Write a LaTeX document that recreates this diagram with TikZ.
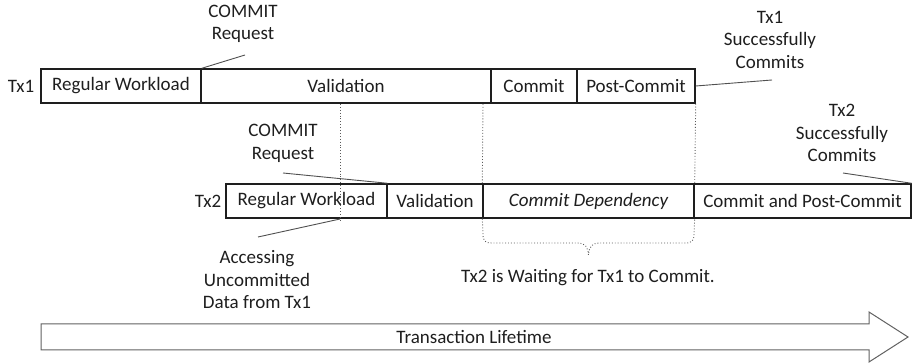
\documentclass[tikz,border=0pt]{standalone}
\usepackage{fontspec}
\setmainfont{Carlito}
\definecolor{ink}{HTML}{1E1E1E}
\definecolor{wire}{HTML}{505050}
\definecolor{dotc}{HTML}{5A5A5A}
\begin{document}
\begin{tikzpicture}[x=1pt,y=-1pt,
  every node/.style={font=\fontsize{19}{22.5}\selectfont, text=ink},
  cell/.style={draw=ink, line width=1.4pt, minimum height=34pt, inner sep=0pt},
  lbl/.style={align=center, inner sep=0pt},
  conn/.style={draw=wire, line width=0.9pt},
  dots/.style={draw=dotc, line width=0.9pt, dotted},
  bigarrow/.style={draw=wire!90, line width=1pt}]
\useasboundingbox (0,0) rectangle (914,363);
% Tx1 row
\node[cell, minimum width=160pt] (t1a) at (121,86) {Regular Workload};
\node[cell, minimum width=290pt] (t1b) at (346,86) {Validation};
\node[cell, minimum width=86pt]  (t1c) at (534,86) {Commit};
\node[cell, minimum width=118pt] (t1d) at (636,86) {Post-Commit};
\node[lbl] (tx1) at (21,86) {Tx1};
% Tx2 row
\node[cell, minimum width=161pt] (t2a) at (306.5,201) {Regular Workload};
\node[cell, minimum width=96pt]  (t2b) at (435,201) {Validation};
\node[cell, minimum width=211pt] (t2c) at (588.5,201) {\itshape Commit Dependency};
\node[cell, minimum width=217pt] (t2d) at (802.5,201) {Commit and Post-Commit};
\node[lbl] (tx2) at (208,201) {Tx2};
% labels
\node[lbl] (req1) at (243,24) {COMMIT\\Request};
\node[lbl] (req2) at (283,143.5) {COMMIT\\Request};
\node[lbl] (succ1) at (770,39.5) {Tx1\\Successfully\\Commits};
\node[lbl] (succ2) at (842,133) {Tx2\\Successfully\\Commits};
\node[lbl] (acc) at (257,280) {Accessing\\Uncommitted\\Data from Tx1};
\node[lbl] (wait) at (588,278) {Tx2 is Waiting for Tx1 to Commit.};
% connector free ends
\coordinate (r1) at (245,55);
\coordinate (r2) at (283,173);
\coordinate (s1) at (772,80);
\coordinate (s2) at (843,173);
\coordinate (a1) at (258,237);
\coordinate (a2) at (340,219);
\draw[conn] (r1) -- (t1a.north east);
\draw[conn] (r2) -- (t2a.north east);
\draw[conn] (s1) -- (t1d.east);
\draw[conn] (s2) -- (t2d.north east);
\draw[conn] (a1) -- (a2);
% dotted guides
\coordinate (d1top) at (340,104);
\coordinate (d1bot) at (340,222);
\coordinate (d2top) at (483,104);
\draw[dots] (d1top) -- (d1bot);
\draw[dots] (d2top) -- (t2c.north west);
\draw[dots] (t1d.south east) -- (t2c.north east);
% brace
\draw[dots] (t2c.south west) -- (483,234) .. controls (483,241) and (485,243) .. (492,243)
  -- (578,243) .. controls (585,243) and (588,247) .. (588.5,255)
  .. controls (589,247) and (592,243) .. (599,243)
  -- (685,243) .. controls (692,243) and (694,241) .. (694,234) -- (t2c.south east);
% lifetime arrow
\draw[bigarrow] (41,324) -- (869,324) -- (869,312) -- (908,337) -- (869,362) -- (869,350) -- (41,350) -- cycle;
\node[lbl] (life) at (474,337) {Transaction Lifetime};
\end{tikzpicture}
\end{document}
